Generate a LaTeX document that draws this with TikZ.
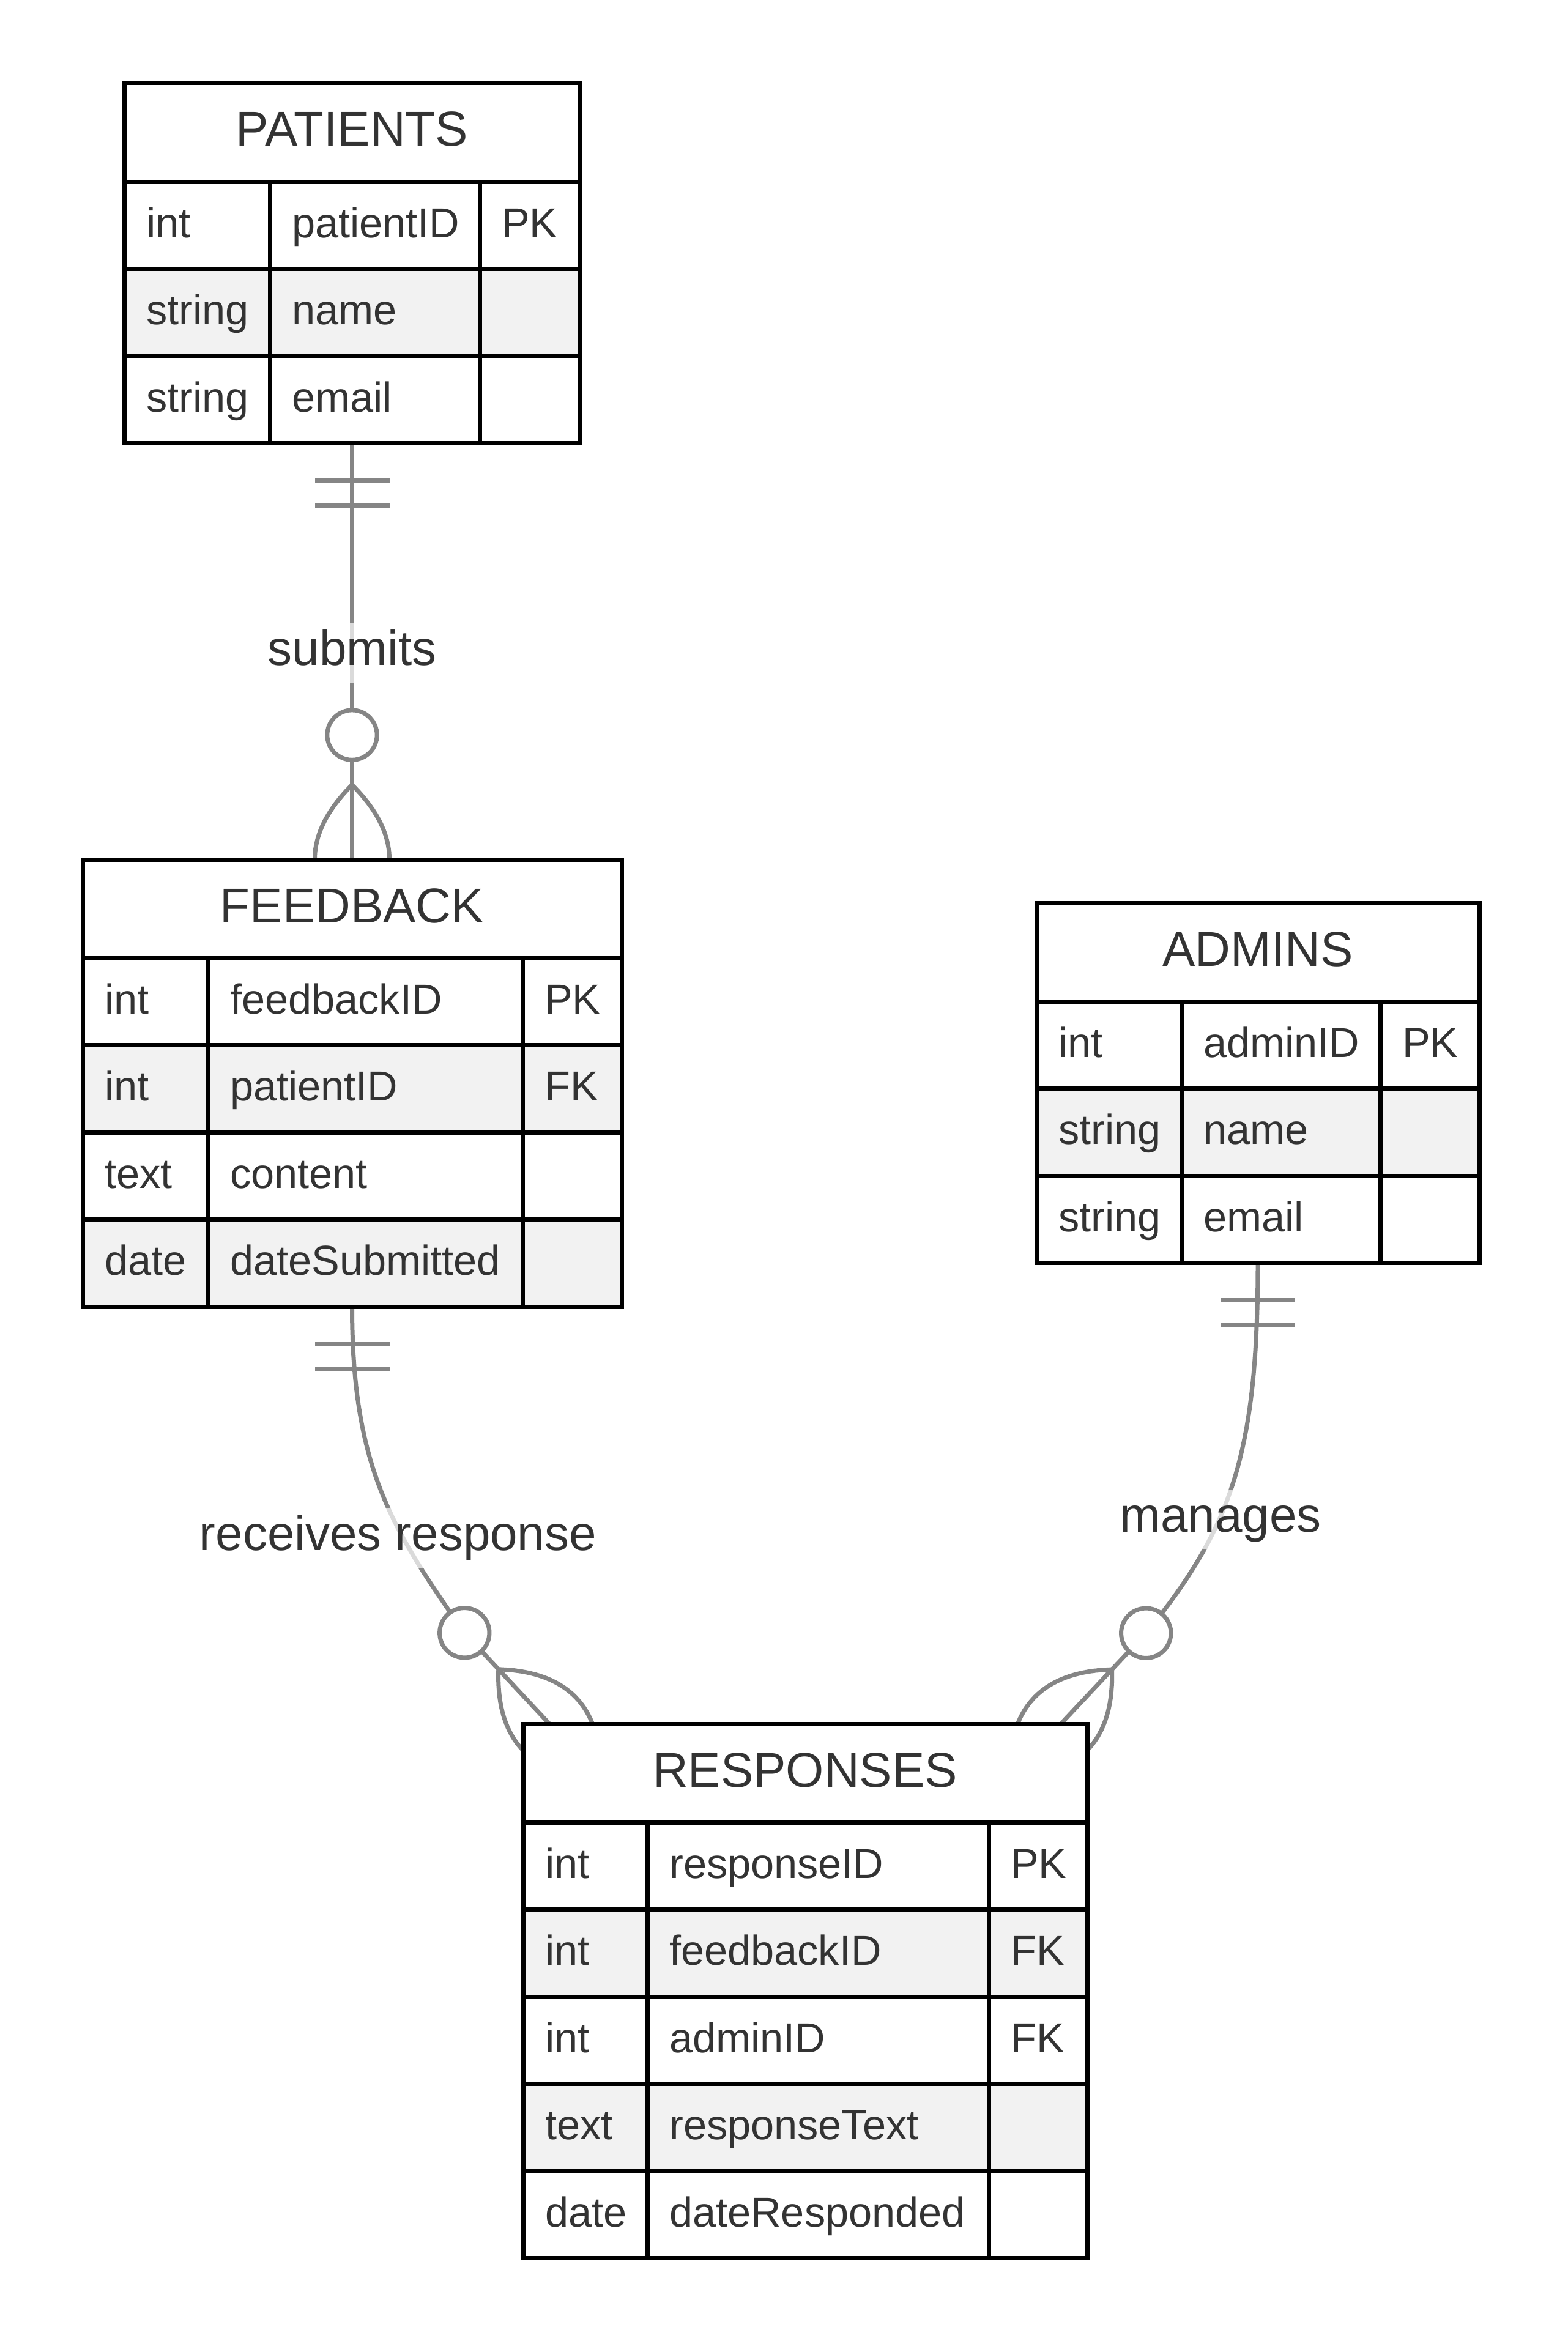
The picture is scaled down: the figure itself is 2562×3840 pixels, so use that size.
\documentclass[tikz,border=0pt]{standalone}
\usepackage{fontspec}
\setmainfont{Liberation Sans}
\usetikzlibrary{calc}
\definecolor{textgray}{HTML}{333333}
\definecolor{linegray}{HTML}{858585}
\definecolor{rowgray}{HTML}{F2F2F2}
\pgfdeclarelayer{bg}
\pgfsetlayers{bg,main}

\tikzset{
  onlyone/.pic={\draw[relline] (61,-61) -- (61,61) (102,-61) -- (102,61);},
  zeromany/.pic={
    \draw[relline] (-122,0) .. controls (-40.7,81.4) and (40.7,81.4) .. (122,0)
      .. controls (40.7,-81.4) and (-40.7,-81.4) .. (-122,0);
    \draw[relline,fill=white] (-203.4,0) circle (40.7pt);}
}

% name, left, top, col1, col2, right, title, rows
\newcommand{\erentity}[8]{%
  \fill[white] (#2,#3) rectangle (#6,#3+161);
  \node[titletext] (#1-title) at ({(#2+#6)/2},#3+103) {#7};
  \foreach \ty/\nm/\ky/\fl [count=\i] in {#8} {
    \pgfmathsetmacro\yt{#3+161+(\i-1)*142.5}
    \fill[\fl] (#2,\yt) rectangle (#6,\yt+142.5);
    \draw[cell] (#2,\yt) -- (#6,\yt);
    \node[rowtext] (#1-\i-type) at (#2+36,\yt+91) {\ty};
    \node[rowtext] (#1-\i-name) at (#4+36,\yt+91) {\nm};
    \node[rowtext] (#1-\i-key) at (#5+36,\yt+91) {\ky};
    \xdef\nrows{\i}
  }
  \pgfmathsetmacro\yb{#3+161+\nrows*142.5}
  \pgfmathsetmacro\ew{#6-#2}
  \pgfmathsetmacro\eh{\yb-#3}
  \draw[cell] (#4,#3+161) -- (#4,\yb) (#5,#3+161) -- (#5,\yb);
  \node[entbox,minimum width=\ew pt,minimum height=\eh pt] (#1) at (#2,#3) {};
}

\begin{document}
\begin{tikzpicture}[x=1pt,y=-1pt,
  entbox/.style={draw=black,line width=7pt,anchor=north west,inner sep=0pt,outer sep=0pt},
  cell/.style={draw=black,line width=7pt},
  titletext/.style={anchor=base,inner sep=0pt,text=textgray,font=\fontsize{80}{96}\selectfont},
  rowtext/.style={anchor=base west,inner sep=0pt,text=textgray,font=\fontsize{68.5}{82}\selectfont},
  relline/.style={draw=linegray,line width=7pt},
  rellabel/.style={fill=white,fill opacity=0.7,text opacity=1,text=textgray,inner xsep=4pt,inner ysep=9pt,
    text height=60pt,text depth=20pt,font=\fontsize{80}{96}\selectfont}]
\useasboundingbox (0,0) rectangle (2562,3840);

\erentity{patients}{203}{136}{441}{784}{948}{PATIENTS}{int/patientID/PK/white, string/name//rowgray, string/email//white}
\erentity{feedback}{135}{1405}{340}{854}{1016}{FEEDBACK}{int/feedbackID/PK/white, int/patientID/FK/rowgray, text/content//white, date/dateSubmitted//rowgray}
\erentity{admins}{1694}{1476}{1931}{2256}{2418}{ADMINS}{int/adminID/PK/white, string/name//rowgray, string/email//white}
\erentity{responses}{855}{2818}{1058}{1616}{1777}{RESPONSES}{int/responseID/PK/white, int/feedbackID/FK/rowgray, int/adminID/FK/white, text/responseText//rowgray, date/dateResponded//white}

\coordinate (resp-l) at ($(responses.north west)+(43,0)$);
\coordinate (resp-lc) at ($(resp-l)+(-139,-149)$);
\coordinate (resp-r) at ($(responses.north east)+(-43,0)$);
\coordinate (resp-rc) at ($(resp-r)+(140,-149)$);

\begin{pgfonlayer}{bg}
\fill[white] (0,0) rectangle (2562,3840);
\draw[relline] (patients.south) -- (feedback.north);
\draw[relline] (feedback.south) .. controls +(0,263) and +(-118,-169) .. (resp-lc) -- (resp-l);
\draw[relline] (admins.south) .. controls +(0,315) and +(137,-169) .. (resp-rc) -- (resp-r);
\pic[rotate=-90] at (patients.south) {onlyone};
\pic[rotate=-90] at (feedback.south) {onlyone};
\pic[rotate=-90] at (admins.south) {onlyone};
\pic[rotate=-90] at (feedback.north) {zeromany};
\pic[rotate=-47] at (resp-l) {zeromany};
\pic[rotate=-133.2] at (resp-r) {zeromany};
\end{pgfonlayer}

\node[rellabel] (submits) at (575.5,1067) {submits};
\node[rellabel] (receives) at (650.5,2514.5) {receives response};
\node[rellabel] (manages) at (1995,2484) {manages};
\end{tikzpicture}
\end{document}
